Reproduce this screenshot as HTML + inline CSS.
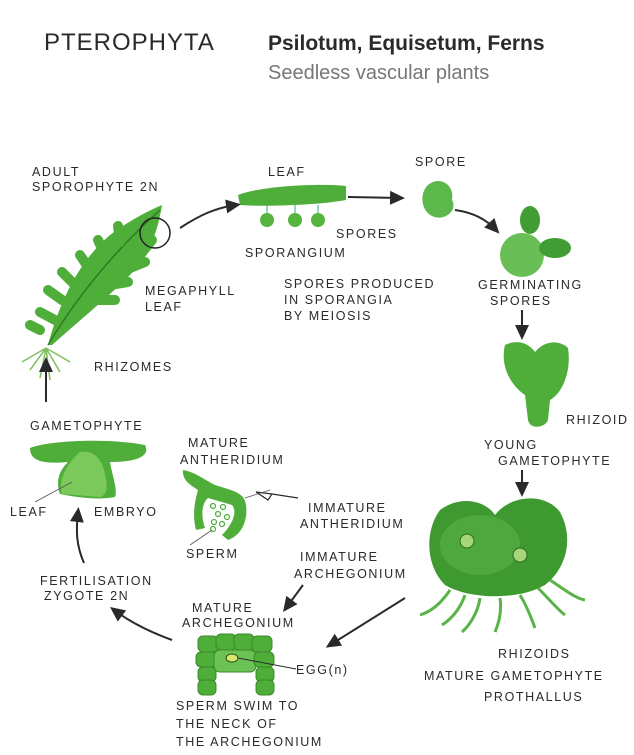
<!DOCTYPE html>
<html><head><style>
html,body{margin:0;padding:0;background:#fff;}
svg{display:block;}
text{font-family:"Liberation Sans",sans-serif;fill:#2a2a2a;}
.l{font-size:12.5px;letter-spacing:1.6px;}
</style></head><body>
<svg width="634" height="755" viewBox="0 0 634 755" xmlns="http://www.w3.org/2000/svg">
<defs>
<marker id="a" markerWidth="16" markerHeight="14" refX="10" refY="7" orient="auto" markerUnits="userSpaceOnUse"><path d="M0,0 L15,7 L0,14 Z" fill="#2a2a2a"/></marker>
</defs>
<text x="44" y="50" style="font-size:24px;letter-spacing:1px">PTEROPHYTA</text>
<text x="268" y="50" style="font-size:21px;font-weight:bold">Psilotum, Equisetum, Ferns</text>
<text x="268" y="79" style="font-size:20px;fill:#777">Seedless vascular plants</text>

<!-- fern frond -->
<path d="M48,345 C60,300 80,260 110,235 C130,220 150,210 162,205 C158,230 150,255 130,275 C105,300 80,320 52,345 Z" fill="#4fae3a"/>
<path d="M48,345 C75,300 110,255 160,210" stroke="#2e7a22" stroke-width="1.5" fill="none"/>
<path d="M40,330 L30,325 M55,320 L40,312 M62,300 L48,290 M75,285 L62,272 M90,270 L80,255 M105,255 L98,240 M120,242 L118,226 M95,300 L115,300 M110,285 L128,282 M125,270 L145,262 M140,255 L152,240" stroke="#4fae3a" stroke-width="10" stroke-linecap="round"/>
<circle cx="155" cy="233" r="15" fill="none" stroke="#222" stroke-width="1.5"/>
<path d="M46,348 L30,370 M46,348 L40,378 M46,348 L50,380 M46,348 L60,372 M46,348 L70,362 M46,348 L22,362" stroke="#7fbf60" stroke-width="1.5"/>
<text class="l" x="32" y="176">ADULT</text>
<text class="l" x="32" y="191">SPOROPHYTE 2N</text>
<text class="l" x="145" y="295">MEGAPHYLL</text>
<text class="l" x="145" y="311">LEAF</text>
<text class="l" x="94" y="371">RHIZOMES</text>
<line x1="46" y1="402" x2="46" y2="362" stroke="#2a2a2a" stroke-width="2" marker-end="url(#a)"/>

<!-- leaf -->
<path d="M238,195 C260,186 320,183 346,186 L346,200 C320,205 265,207 240,205 Z" fill="#4fae3a"/>
<line x1="267" y1="205" x2="267" y2="215" stroke="#3a8" /><line x1="295" y1="205" x2="295" y2="215" stroke="#3a8"/><line x1="318" y1="205" x2="318" y2="215" stroke="#3a8"/>
<circle cx="267" cy="220" r="7" fill="#55b53e"/><circle cx="295" cy="220" r="7" fill="#55b53e"/><circle cx="318" cy="220" r="7" fill="#55b53e"/>
<text class="l" x="268" y="176">LEAF</text>
<text class="l" x="336" y="238">SPORES</text>
<text class="l" x="245" y="257">SPORANGIUM</text>
<path d="M180,228 C200,215 215,208 236,205" stroke="#2a2a2a" stroke-width="2" fill="none" marker-end="url(#a)"/>
<line x1="348" y1="197" x2="400" y2="198" stroke="#2a2a2a" stroke-width="2" marker-end="url(#a)"/>
<text class="l" x="284" y="288">SPORES PRODUCED</text>
<text class="l" x="284" y="304">IN SPORANGIA</text>
<text class="l" x="284" y="320">BY MEIOSIS</text>

<!-- spore -->
<path d="M428,185 C440,175 455,185 452,200 C458,210 445,222 432,216 C420,210 420,192 428,185 Z" fill="#5cb84a"/>
<text class="l" x="415" y="166">SPORE</text>
<path d="M455,210 C470,212 485,218 496,230" stroke="#2a2a2a" stroke-width="2" fill="none" marker-end="url(#a)"/>

<!-- germinating -->
<ellipse cx="522" cy="255" rx="22" ry="22" fill="#69bf55"/>
<ellipse cx="530" cy="220" rx="10" ry="14" fill="#3f9d33"/>
<ellipse cx="555" cy="248" rx="16" ry="10" fill="#3f9d33"/>
<text class="l" x="478" y="289">GERMINATING</text>
<text class="l" x="490" y="305">SPORES</text>
<line x1="522" y1="310" x2="522" y2="335" stroke="#2a2a2a" stroke-width="2" marker-end="url(#a)"/>

<!-- young gametophyte -->
<path d="M505,345 C520,338 530,345 535,352 C545,340 560,340 568,348 C572,375 560,395 550,400 L548,420 C545,428 530,430 528,420 L525,395 C510,385 500,365 505,345 Z" fill="#4fae3a"/>
<text class="l" x="566" y="424">RHIZOID</text>
<text class="l" x="484" y="449">YOUNG</text>
<text class="l" x="498" y="465">GAMETOPHYTE</text>
<line x1="522" y1="470" x2="522" y2="492" stroke="#2a2a2a" stroke-width="2" marker-end="url(#a)"/>

<!-- mature gametophyte -->
<path d="M440,510 C460,495 485,500 495,515 C510,495 545,492 560,512 C575,540 565,570 545,585 C520,600 470,600 445,585 C425,565 425,530 440,510 Z" fill="#3e9a30"/>
<ellipse cx="480" cy="545" rx="40" ry="30" fill="#5ab348" opacity="0.6"/>
<circle cx="467" cy="541" r="7" fill="#a7d67a" stroke="#2a6a1a"/>
<circle cx="520" cy="555" r="7" fill="#a7d67a" stroke="#2a6a1a"/>
<path d="M450,590 C440,605 430,612 420,615 M465,595 C460,610 450,620 442,625 M480,598 C478,612 470,625 462,632 M500,598 C502,612 498,625 495,632 M520,595 C528,608 532,620 535,628 M538,588 C550,600 558,610 565,615 M550,580 C565,590 575,598 585,600" stroke="#5ab348" stroke-width="3" fill="none"/>
<text class="l" x="308" y="512">IMMATURE</text>
<text class="l" x="300" y="528">ANTHERIDIUM</text>
<text class="l" x="300" y="561">IMMATURE</text>
<text class="l" x="294" y="578">ARCHEGONIUM</text>
<text class="l" x="498" y="658">RHIZOIDS</text>
<text class="l" x="424" y="680">MATURE GAMETOPHYTE</text>
<text class="l" x="484" y="701">PROTHALLUS</text>
<line x1="405" y1="598" x2="330" y2="645" stroke="#2a2a2a" stroke-width="2" marker-end="url(#a)"/>
<line x1="303" y1="585" x2="286" y2="608" stroke="#2a2a2a" stroke-width="2" marker-end="url(#a)"/>
<line x1="298" y1="498" x2="272" y2="494" stroke="#2a2a2a" stroke-width="1.2"/>
<path d="M272,494 L256,492 L268,500 Z" fill="#fff" stroke="#2a2a2a" stroke-width="1.2"/>

<!-- antheridium -->
<path d="M183,470 C195,472 205,480 215,485 C230,490 245,492 246,505 C248,520 242,535 228,540 L222,535 C232,525 238,512 232,505 L208,498 C200,505 202,520 205,528 L196,530 C192,515 195,500 198,490 C190,485 182,480 183,470 Z" fill="#4fae3a"/>
<g fill="none" stroke="#4fae3a" stroke-width="1.2"><circle cx="213" cy="506" r="2.5"/><circle cx="223" cy="507" r="2.5"/><circle cx="218" cy="514" r="2.5"/><circle cx="227" cy="517" r="2.5"/><circle cx="214" cy="522" r="2.5"/><circle cx="222" cy="524" r="2.5"/><circle cx="213" cy="529" r="2.5"/></g>
<text class="l" x="188" y="447">MATURE</text>
<text class="l" x="180" y="464">ANTHERIDIUM</text>
<text class="l" x="186" y="558">SPERM</text>

<!-- gametophyte with embryo -->
<path d="M30,448 C50,440 110,438 145,445 C150,455 140,462 110,462 C112,475 118,490 115,497 C100,500 80,498 60,494 C55,480 60,470 68,462 C45,464 30,462 30,448 Z" fill="#4fae3a"/>
<path d="M80,452 C90,450 100,455 104,470 C108,485 108,495 100,497 L62,494 C58,482 65,465 80,452 Z" fill="#7ac95a"/>
<text class="l" x="30" y="430">GAMETOPHYTE</text>
<text class="l" x="10" y="516">LEAF</text>
<text class="l" x="94" y="516">EMBRYO</text>
<path d="M84,563 C76,545 76,530 78,512" stroke="#2a2a2a" stroke-width="2" fill="none" marker-end="url(#a)"/>
<text class="l" x="40" y="585">FERTILISATION</text>
<text class="l" x="44" y="600">ZYGOTE 2N</text>
<path d="M172,640 C150,632 130,622 114,610" stroke="#2a2a2a" stroke-width="2" fill="none" marker-end="url(#a)"/>

<!-- archegonium -->
<g fill="#4fae3a" stroke="#3a8a28" stroke-width="1">
<rect x="198" y="636" width="20" height="16" rx="5"/><rect x="216" y="634" width="20" height="16" rx="5"/><rect x="234" y="634" width="20" height="16" rx="5"/><rect x="252" y="636" width="20" height="16" rx="5"/>
<rect x="196" y="652" width="20" height="15" rx="5"/><rect x="214" y="650" width="42" height="22" rx="6" fill="#6cc255"/><rect x="254" y="652" width="20" height="15" rx="5"/>
<rect x="198" y="667" width="18" height="15" rx="5"/><rect x="256" y="667" width="18" height="15" rx="5"/>
<rect x="198" y="680" width="18" height="15" rx="5"/><rect x="256" y="680" width="18" height="15" rx="5"/>
</g>
<ellipse cx="232" cy="658" rx="6" ry="4" fill="#d8e86a" stroke="#2a4a1a"/>
<line x1="238" y1="658" x2="296" y2="669" stroke="#2a2a2a" stroke-width="1"/>
<text class="l" x="296" y="674">EGG(n)</text>
<text class="l" x="192" y="612">MATURE</text>
<text class="l" x="182" y="627">ARCHEGONIUM</text>
<text class="l" x="176" y="710">SPERM SWIM TO</text>
<text class="l" x="176" y="728">THE NECK OF</text>
<text class="l" x="176" y="746">THE ARCHEGONIUM</text>
<line x1="270" y1="490" x2="245" y2="498" stroke="#555" stroke-width="0.8"/>
<line x1="190" y1="545" x2="212" y2="530" stroke="#555" stroke-width="0.8"/>
<line x1="35" y1="502" x2="72" y2="482" stroke="#555" stroke-width="0.8"/>
</svg>
</body></html>
